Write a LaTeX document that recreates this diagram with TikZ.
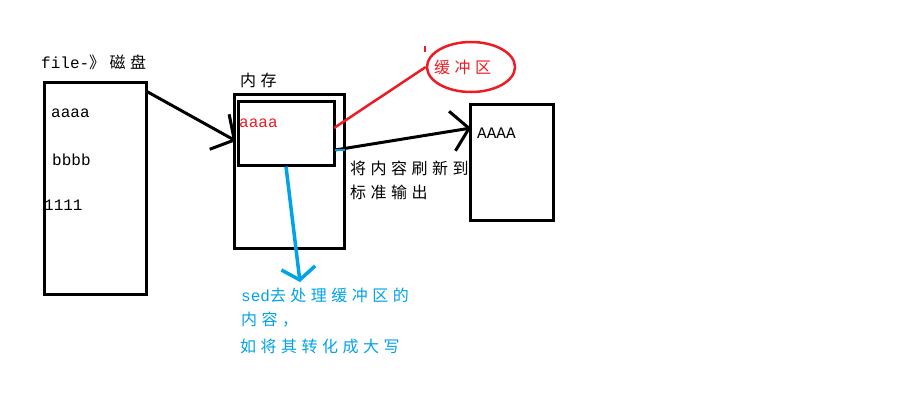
\documentclass[tikz,border=0pt]{standalone}
\usepackage{fontspec}
\usepackage{xcolor}
\newfontfamily\cjk[LetterSpace=28]{Noto Sans CJK SC}
\newfontfamily\monof{Liberation Mono}
\usetikzlibrary{arrows.meta,shapes.geometric,positioning}
\definecolor{paintred}{RGB}{237,28,36}
\definecolor{paintblue}{RGB}{0,162,232}

\begin{document}
\begin{tikzpicture}[x=1pt,y=-1pt]
		\tikzset{
			box/.style={draw, line width=3pt, rectangle, inner sep=0pt},
			txt/.style={anchor=west, inner sep=0pt, font=\cjk\fontsize{16}{18}\selectfont},
			mono/.style={anchor=west, inner sep=0pt, font=\monof\fontsize{16}{18}\selectfont},
			barb/.style={-{Straight Barb[length=17pt,width=40pt]}, line width=3pt}
		}
		\useasboundingbox (0,0) rectangle (916,413);
		% disk
		\node [box, minimum width=102pt, minimum height=212pt] (disk) at (95,188) {};
		\node [txt] (disklbl) at (41,62) {{\monof file-}》磁盘};
		\node [mono] (l1) at (51,113) {aaaa};
		\node [mono] (l2) at (52,160) {bbbb};
		\node [mono] (l3) at (44,205) {1111};
		% memory
		\node [box, minimum width=110pt, minimum height=154pt] (mem) at (289,171) {};
		\node [txt] (memlbl) at (240,80) {内存};
		\node [box, minimum width=96pt, minimum height=64pt] (buf) at (286,133) {};
		\node [mono, text=paintred] (bufline) at (239,123) {aaaa};
		% stdout
		\node [box, minimum width=83pt, minimum height=116pt] (out) at (511.5,162) {};
		\node [mono] (outline) at (477,133) {AAAA};
		% buffer note
		\node [draw=paintred, line width=2.5pt, ellipse, minimum width=88pt, minimum height=50pt] (bufnote) at (471,67) {};
		\node [txt, text=paintred] (bufnotelbl) at (434,67) {缓冲区};
		\node [txt] (flush1) at (350,168) {将内容刷新到};
		\node [txt] (flush2) at (350,192) {标准输出};
		\node [txt, text=paintblue] (sed1) at (241,295) {{\monof sed}去处理缓冲区的};
		\node [txt, text=paintblue] (sed2) at (241,320) {内容，};
		\node [txt, text=paintblue] (sed3) at (240,346) {如将其转化成大写};
		% connectors
		\coordinate (diskout) at (146,91);
		\coordinate (memin) at (236,141);
		\coordinate (bufout) at (335,150);
		\coordinate (outin) at (471,128);
		\coordinate (bufred) at (334,128);
		\coordinate (sedtip) at (300,282);
		\draw [barb] (diskout) -- (memin);
		\draw [barb] (bufout) -- (outin);
		\draw [paintred, line width=2.5pt] (bufred) -- (bufnote.west);
		\draw [paintblue, line width=3.5pt, -{Straight Barb[length=12pt,width=34pt]}] (buf.south) -- (sedtip);
		\draw [paintblue, line width=2pt] (bufout) -- ++(10,0);
		\draw [paintred, line width=2pt] (425,46) -- (425,52);
\end{tikzpicture}
\end{document}
